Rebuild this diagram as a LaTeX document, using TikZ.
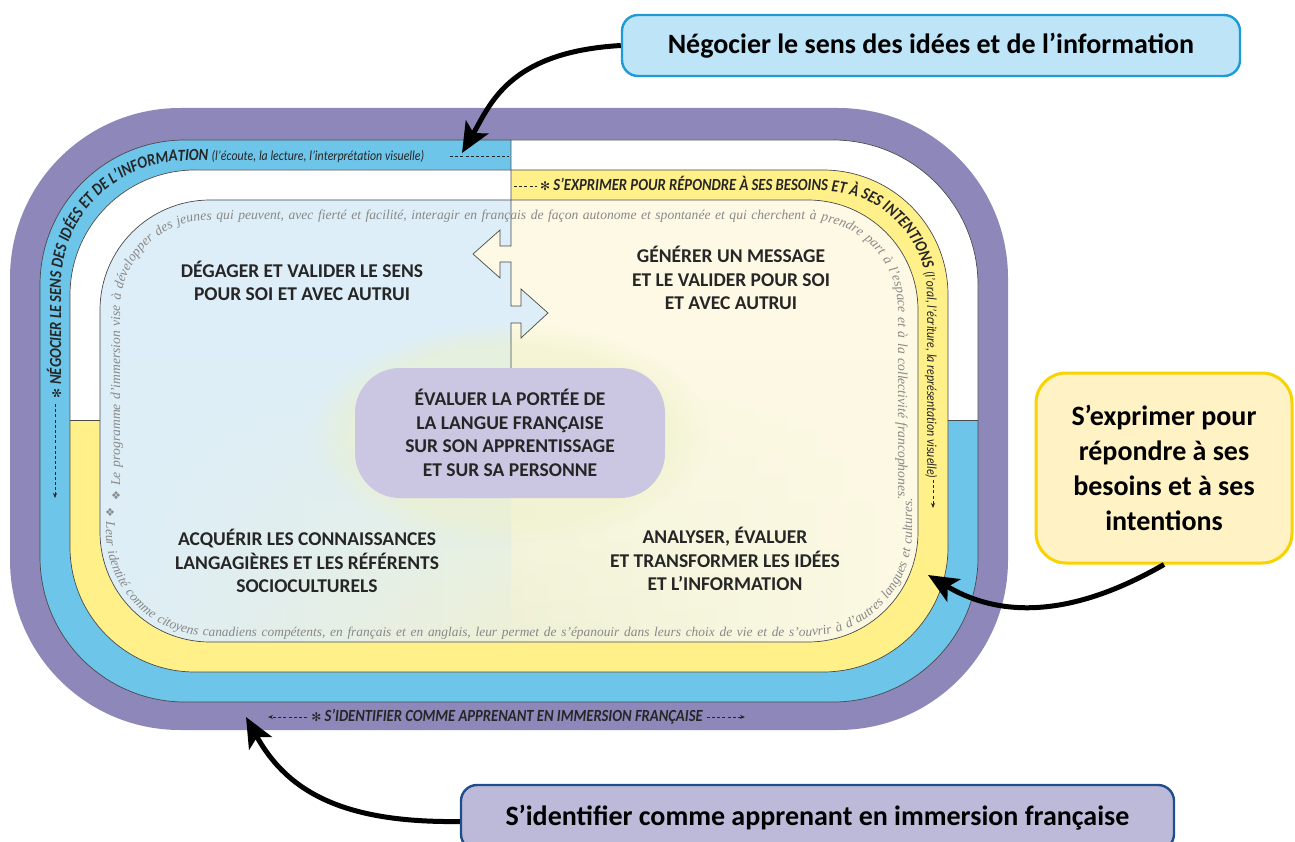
\documentclass[tikz,border=0pt]{standalone}
\usepackage{fontspec}
\setmainfont{Carlito}
\newfontfamily\bandf[FakeStretch=0.86]{Carlito}
\newfontfamily\gserif{Liberation Serif}
\newfontfamily\dvs{DejaVu Sans}
\usetikzlibrary{arrows.meta,decorations.text,fadings}
\definecolor{cpurple}{HTML}{8E87BA}
\definecolor{cblue}{HTML}{6DC5EA}
\definecolor{cyellow}{HTML}{FFF08A}
\definecolor{inblue}{HTML}{DDEEF8}
\definecolor{incream}{HTML}{FDF9E4}
\definecolor{inmid}{HTML}{EEF1D6}
\definecolor{inglow}{HTML}{EEF2C8}
\definecolor{cbox}{HTML}{CBC6E2}
\definecolor{calblue}{HTML}{BEE4F7}
\definecolor{calbluel}{HTML}{1C9BD7}
\definecolor{calyel}{HTML}{FFF2C4}
\definecolor{calyell}{HTML}{F8D300}
\definecolor{calpur}{HTML}{BDB9D9}
\definecolor{calpurl}{HTML}{1F4E8C}
\definecolor{gtext}{HTML}{888888}
\definecolor{dtext}{HTML}{262626}
\definecolor{edge}{HTML}{4A4A4A}
\begin{document}
\begin{tikzpicture}[x=1pt,y=-1pt,
  edgeln/.style={draw=edge,line width=0.7pt},
  callout/.style={rounded corners=16pt,line width=2.4pt,align=center,inner sep=0pt,
    font=\bfseries\fontsize{28}{35}\selectfont},
  quad/.style={align=center,text=dtext,inner sep=0pt,font=\bfseries\fontsize{19.5}{23.5}\selectfont},
  bandlbl/.style={inner sep=0pt,text=dtext,font=\bandf\bfseries\itshape\fontsize{17}{17}\selectfont},
  bigarrow/.style={line width=5pt,-{Stealth[length=30pt,width=26pt,inset=7pt]}},
  smallarrow/.style={line width=0.8pt,draw=dtext,dash pattern=on 3pt off 2.2pt,-{Stealth[length=5pt,width=4pt]}},
  dashln/.style={line width=0.8pt,draw=dtext,dash pattern=on 3pt off 2.2pt}]
\useasboundingbox (0,0) rectangle (1295,842);

% ---- bands
\fill[cpurple, rounded corners=170pt] (10,108) rectangle (1008,730);
\fill[cblue, rounded corners=145pt] (40,140) rectangle (978,702);
\begin{scope}
  \clip[rounded corners=145pt] (40,140) rectangle (978,702);
  \fill[white] (511,130) rectangle (990,420);
\end{scope}
\fill[cyellow, rounded corners=125pt] (70,170) rectangle (948,672);
\begin{scope}
  \clip[rounded corners=125pt] (70,170) rectangle (948,672);
  \fill[white] (60,160) rectangle (511,420);
\end{scope}

% ---- inner area
\begin{scope}
  \clip[rounded corners=110pt] (100,200) rectangle (918,642);
  \fill[incream] (90,190) rectangle (930,650);
  \fill[inblue] (90,190) -- (511,190) -- (511,246) -- (500,246) -- (500,230) -- (473,254)
     -- (500,278) -- (500,262) -- (511,262) -- (511,306) -- (521,306) -- (521,289)
     -- (548,313) -- (521,338) -- (521,323) -- (511,323) -- (511,650) -- (90,650) -- cycle;
  \shade[left color=inblue,right color=incream,middle color=inmid,path fading=north]
     (100,360) rectangle (918,642);
  \fill[inglow, opacity=0.5, path fading=circle with fuzzy edge 20 percent] (510,433) ellipse [x radius=200, y radius=110];
\end{scope}

% ---- edges
\draw[edgeln, rounded corners=145pt] (40,140) rectangle (978,702);
\draw[edgeln, rounded corners=125pt] (70,170) rectangle (948,672);
\draw[edgeln, rounded corners=110pt] (100,200) rectangle (918,642);
\draw[edgeln] (70,420) -- (100,420);
\draw[edgeln] (948,420) -- (978,420);
\draw[edgeln] (511,140) -- (511,246) -- (500,246) -- (500,230) -- (473,254)
     -- (500,278) -- (500,262) -- (511,262) -- (511,306) -- (521,306) -- (521,289)
     -- (548,313) -- (521,338) -- (521,323) -- (511,323) -- (511,372);

% ---- band texts
\path[decorate, rounded corners=124pt, decoration={text along path, text color=dtext,
  text={|\dvs\mdseries\upshape\fontsize{12}{12}\selectfont|✻|\bandf\bfseries\itshape\fontsize{17}{17}\selectfont| NÉGOCIER LE SENS DES IDÉES ET DE L’INFORMATION |\bandf\mdseries\itshape\fontsize{13.8}{13.8}\selectfont|(l’écoute, la lecture, l’interprétation visuelle)}}]
  (61,398) -- (61,161) -- (511,161);
\path[decorate, rounded corners=104pt, decoration={text along path, text color=dtext,
  text={|\dvs\mdseries\upshape\fontsize{12}{12}\selectfont|✻|\bandf\bfseries\itshape\fontsize{17}{17}\selectfont| S’EXPRIMER POUR RÉPONDRE À SES BESOINS ET À SES INTENTIONS |\bandf\mdseries\itshape\fontsize{13.8}{13.8}\selectfont|(l’oral, l’écriture, la représentation visuelle)}}]
  (540,191) -- (927,191) -- (927,520);

\coordinate (b1s) at (55,404);
\coordinate (b1e) at (55,498);
\draw[smallarrow] (b1s) -- (b1e);
\coordinate (b1a) at (450,156);
\coordinate (b1b) at (509,156);
\draw[dashln] (b1a) -- (b1b);
\coordinate (b2a) at (514,186);
\coordinate (b2b) at (537,186);
\draw[dashln] (b2a) -- (b2b);
\coordinate (b2s) at (933,480);
\coordinate (b2e) at (933,508);
\draw[smallarrow] (b2s) -- (b2e);

\node[bandlbl] (bl) at (507,717) {{\dvs\mdseries\upshape\fontsize{12}{12}\selectfont ✻} S’IDENTIFIER COMME APPRENANT EN IMMERSION FRANÇAISE};
\coordinate (blL) at (268,717);
\coordinate (blR) at (745,717);
\draw[smallarrow] ([xshift=-4pt]bl.west) -- (blL);
\draw[smallarrow] ([xshift=4pt]bl.east) -- (blR);

% ---- grey circular texts
\path[decorate, rounded corners=90pt, decoration={text along path, text color=gtext,
  text align={fit to path stretching spaces},
  text={|\dvs\fontsize{11}{11}\selectfont|❖|\gserif\itshape\fontsize{13.6}{13.6}\selectfont| Le programme d’immersion vise à développer des jeunes qui peuvent, avec fierté et facilité, interagir en français de façon autonome et spontanée et qui cherchent à prendre part à l’espace et à la collectivité francophones.}}]
  (120,500) -- (120,220) -- (898,220) -- (898,500);
\path[decorate, rounded corners=104pt, decoration={text along path, text color=gtext,
  text align={fit to path stretching spaces},
  text={|\dvs\fontsize{11}{11}\selectfont|❖|\gserif\itshape\fontsize{13.4}{13.4}\selectfont| Leur identité comme citoyens canadiens compétents, en français et en anglais, leur permet de s’épanouir dans leurs choix de vie et de s’ouvrir à d’autres langues et cultures.}}]
  (106,507) -- (106,636) -- (912,636) -- (912,498);

% ---- inner labels
\node[quad] (q1) at (302,281) {DÉGAGER ET VALIDER LE SENS\\POUR SOI ET AVEC AUTRUI};
\node[quad] (q2) at (731,278) {GÉNÉRER UN MESSAGE\\ET LE VALIDER POUR SOI\\ET AVEC AUTRUI};
\node[quad] (q3) at (307,561) {ACQUÉRIR LES CONNAISSANCES\\LANGAGIÈRES ET LES RÉFÉRENTS\\SOCIOCULTURELS};
\node[quad] (q4) at (725,559) {ANALYSER, ÉVALUER\\ET TRANSFORMER LES IDÉES\\ET L’INFORMATION};
\node[quad, fill=cbox, rounded corners=45pt, minimum width=310pt, minimum height=130pt] (centre) at (510,433)
  {ÉVALUER LA PORTÉE DE\\LA LANGUE FRANÇAISE\\SUR SON APPRENTISSAGE\\ET SUR SA PERSONNE};

% ---- callouts
\node[callout, fill=calblue, draw=calbluel, minimum width=618pt, minimum height=61pt] (nb) at (931,45.5)
  {Négocier le sens des idées et de l’information};
\node[callout, fill=calyel, draw=calyell, line width=3pt, rounded corners=30pt, minimum width=256pt, minimum height=190pt] (ny) at (1164,468)
  {S’exprimer pour\\répondre à ses\\besoins et à ses\\intentions};
\node[callout, fill=calpur, draw=calpurl, minimum width=713pt, minimum height=65pt] (np) at (817.5,817.5)
  {S’identifier comme apprenant en immersion française};

% ---- arrows
\coordinate (t1) at (462,153);
\draw[bigarrow] (nb.west) .. controls (508,52) and (490,105) .. (t1);
\coordinate (t2) at (928,575);
\draw[bigarrow] (ny.south) .. controls (1059,625) and (990,612) .. (t2);
\coordinate (t3) at (246,717);
\draw[bigarrow] ([yshift=-4pt]np.west) .. controls (345,823) and (288,793) .. (t3);
\end{tikzpicture}
\end{document}
